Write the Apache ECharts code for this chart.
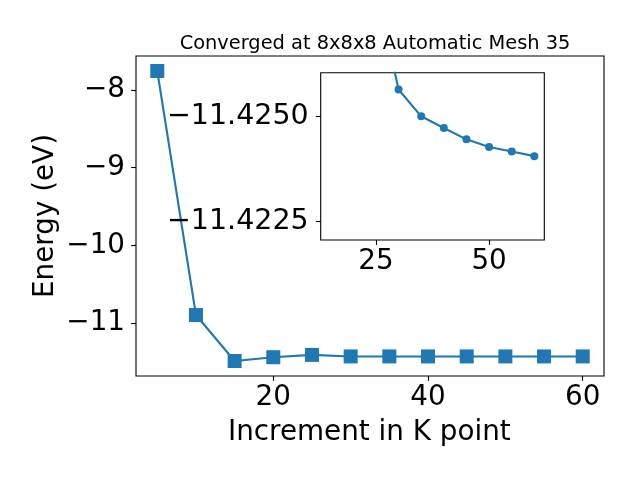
<!DOCTYPE html>
<html>
<head>
<meta charset="utf-8">
<script src="https://cdn.jsdelivr.net/npm/echarts@6/dist/echarts.min.js"></script>
<style>html,body{margin:0;padding:0;background:#fff}#c{width:640px;height:480px}</style>
</head>
<body>
<div id="c"></div>
<script>
// Main chart data
var kPoints = [5, 10, 15, 20, 25, 30, 35, 40, 45, 50, 55, 60];
var energies = [-7.755, -10.897, -11.489, -11.44, -11.41, -11.43, -11.43, -11.43, -11.43, -11.43, -11.43, -11.43];
// Inset data
var insetK = [25, 30, 35, 40, 45, 50, 55, 60];
var insetEnergies = [-11.4281, -11.42564, -11.4250, -11.42472, -11.42445, -11.42427, -11.42416, -11.42405];
// Tick labels
var mainXTicks = [20, 40, 60];
var mainYTicks = [-11, -10, -9, -8];
var insetXTicks = [25, 50];
var insetYTicks = [-11.4250, -11.4225];

var title = 'Converged at 8x8x8 Automatic Mesh 35';
var xLabel = 'Increment in K point';
var yLabel = 'Energy (eV)';

function minus(s) { return String(s).replace('-', '\u2212'); }
var FONT = 'DejaVu Sans';
var BLUE = '#1f77b4';

var chart = echarts.init(document.getElementById('c'), null, {renderer: 'canvas'});
chart.setOption({
  animation: false,
  backgroundColor: '#fff',
  textStyle: {fontFamily: FONT},
  title: {
    text: title, left: 370, top: 29, textAlign: 'center',
    textStyle: {fontFamily: FONT, fontSize: 19.4, fontWeight: 'normal', color: '#000'}
  },
  graphic: [
    {type: 'text', left: 228, top: 419, style: {text: xLabel, font: '27.8px "DejaVu Sans"', fill: '#000'}},
    {type: 'text', x: 46, y: 216, rotation: Math.PI / 2, style: {text: yLabel, font: '27.8px "DejaVu Sans"', fill: '#000', textAlign: 'center', textVerticalAlign: 'middle'}, originX: 0, originY: 0}
  ],
  grid: [
    {left: 136, top: 56, width: 468, height: 320, show: true, borderColor: '#000', borderWidth: 1.1, backgroundColor: '#fff'},
    {left: 320.7, top: 72.7, width: 223.6, height: 167.3, show: true, borderColor: '#000', borderWidth: 1.1, backgroundColor: '#fff', z: 10}
  ],
  xAxis: [
    {type: 'value', gridIndex: 0, min: 2.25, max: 62.75,
     axisLine: {show: false}, splitLine: {show: false},
     axisTick: {show: true, length: 4.9, lineStyle: {color: '#000', width: 1.1}, customValues: mainXTicks},
     axisLabel: {fontSize: 27.8, color: '#000', fontFamily: FONT, margin: 8, customValues: mainXTicks, formatter: function (v) { return minus(v); }}},
    {type: 'value', gridIndex: 1, min: 12.8, max: 62.2, z: 10,
     axisLine: {show: false}, splitLine: {show: false},
     axisTick: {show: true, length: 4.9, lineStyle: {color: '#000', width: 1.1}, customValues: insetXTicks},
     axisLabel: {fontSize: 27.8, color: '#000', fontFamily: FONT, margin: 8, customValues: insetXTicks, formatter: function (v) { return minus(v); }}}
  ],
  yAxis: [
    {type: 'value', gridIndex: 0, min: -11.682, max: -7.562,
     axisLine: {show: false}, splitLine: {show: false},
     axisTick: {show: true, length: 4.9, lineStyle: {color: '#000', width: 1.1}, customValues: mainYTicks},
     axisLabel: {fontSize: 27.8, color: '#000', fontFamily: FONT, margin: 11, customValues: mainYTicks, formatter: function (v) { return minus(v); }}},
    {type: 'value', gridIndex: 1, inverse: true, min: -11.42604, max: -11.42205, z: 10,
     axisLine: {show: false}, splitLine: {show: false},
     axisTick: {show: true, length: 4.9, lineStyle: {color: '#000', width: 1.1}, customValues: insetYTicks},
     axisLabel: {fontSize: 28.5, color: '#000', fontFamily: FONT, margin: 12, customValues: insetYTicks, formatter: function (v) { return minus(Number(v).toFixed(4)); }}}
  ],
  series: [
    {type: 'line', xAxisIndex: 0, yAxisIndex: 0, data: kPoints.map(function (k, i) { return [k, energies[i]]; }),
     symbol: 'rect', symbolSize: 14, showAllSymbol: true,
     lineStyle: {color: BLUE, width: 2.1}, itemStyle: {color: BLUE}, z: 2},
    {type: 'line', xAxisIndex: 1, yAxisIndex: 1, data: insetK.map(function (k, i) { return [k, insetEnergies[i]]; }),
     symbol: 'circle', symbolSize: 8, showAllSymbol: true, clip: true,
     lineStyle: {color: BLUE, width: 2.1}, itemStyle: {color: BLUE}, z: 12}
  ]
});
</script>
</body>
</html>
